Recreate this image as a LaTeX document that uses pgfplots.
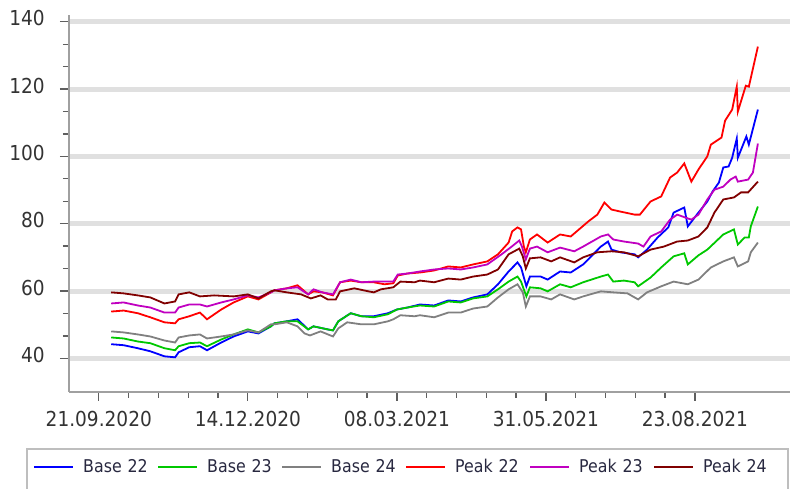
\documentclass[border=0pt]{standalone}
\usepackage{fontspec}
\setmainfont{DejaVu Sans}[FakeStretch=0.9]
\usepackage{pgfplots}
\pgfplotsset{compat=1.18}

\definecolor{gridgray}{RGB}{224,224,224}
\definecolor{axgray}{RGB}{160,160,160}
\definecolor{tickgray}{RGB}{95,95,95}
\definecolor{labelgray}{RGB}{51,51,51}
\definecolor{legtext}{RGB}{40,40,64}
\definecolor{legbox}{RGB}{190,190,190}
\definecolor{cbase22}{RGB}{0,0,255}
\definecolor{cbase23}{RGB}{0,200,0}
\definecolor{cbase24}{RGB}{128,128,128}
\definecolor{cpeak22}{RGB}{255,0,0}
\definecolor{cpeak23}{RGB}{192,0,192}
\definecolor{cpeak24}{RGB}{128,0,0}

\begin{document}
\begin{tikzpicture}
\begin{axis}[
  scale only axis,
  width=721pt, height=377pt,
  xmin=-16.8, xmax=389.6,
  ymin=30, ymax=142,
  axis lines=left,
  axis line style={-, axgray, line width=1.6pt},
  tick align=outside,
  major tick length=9pt, minor tick length=6pt,
  tick style={tickgray, line width=1.3pt},
  xtick={0,84,168,252,336},
  xticklabels={21.09.2020,14.12.2020,08.03.2021,31.05.2021,23.08.2021},
  minor x tick num=4,
  ytick={40,60,80,100,120,140},
  minor y tick num=2,
  ymajorgrids,
  major grid style={gridgray, line width=5pt},
  /pgf/number format/assume math mode=true,
  ticklabel style={font=\fontsize{20.6}{24}\selectfont, text=labelgray, inner sep=0pt},
  xticklabel style={anchor=north, yshift=-10pt},
  yticklabel style={anchor=east, xshift=-15pt, yshift=3.5pt},
  every axis plot/.append style={line width=1.8pt, no markers},
  legend columns=6,
  legend style={at={(axis description cs:0,0)}, anchor=west,
    xshift=-36pt, yshift=-75pt, draw=none, fill=none, inner sep=0pt,
    font=\fontsize{17.6}{21}\selectfont, text=legtext,
    /tikz/every odd column/.append style={column sep=9pt},
    nodes={inner sep=0pt, text width=74pt, align=left}},
  legend image code/.code={\draw[#1, line width=2pt] (0pt,0pt) -- (39pt,0pt);},
]
\addplot[cbase22] coordinates {
(7,44.2)(14,43.9)(22,43.0)(29,42.1)(37,40.6)(43,40.3)(45,41.8)(51,43.3)(57,43.6)(61,42.4)
(69,44.7)(76,46.5)(84,48.0)(90,47.4)(97,49.5)(99,50.4)(106,51.0)(112,51.6)(118,48.6)(121,49.5)
(129,48.6)(132,48.3)(135,51.0)(142,53.4)(148,52.5)(155,52.5)(163,53.4)(168,54.5)(174,55.1)(181,56.0)
(189,55.7)(197,57.2)(204,56.9)(211,58.1)(219,59.0)(225,62.0)(231,65.8)(236,68.5)(238,67.0)(241,61.4)
(243,64.3)(249,64.3)(253,63.4)(260,65.8)(266,65.5)(273,67.9)(283,73.2)(287,74.7)(289,72.3)(294,71.5)
(302,70.9)(304,70.0)(309,72.3)(315,75.9)(321,78.9)(324,83.3)(330,84.8)(332,79.2)(338,83.3)(343,86.6)
(346,89.6)(349.5,92.2)(352,96.7)(355,97.0)(357,99.6)(359.6,105.3)(360.2,99.6)(365,105.9)(366.4,103.5)(371.5,113.9)
};
\addlegendentry{Base 22}
\addplot[cbase23] coordinates {
(7,46.2)(14,45.9)(22,45.0)(29,44.5)(37,43.0)(43,42.4)(45,43.6)(51,44.5)(57,44.7)(61,43.6)
(69,45.6)(76,47.1)(84,48.6)(90,47.7)(97,49.5)(99,50.4)(106,51.0)(112,51.0)(118,48.6)(121,49.5)
(129,48.6)(132,48.3)(135,51.0)(142,53.4)(148,52.5)(155,52.2)(163,53.1)(168,54.5)(174,55.1)(181,55.7)
(189,55.4)(197,56.9)(204,56.6)(211,57.8)(219,58.4)(225,60.5)(231,62.8)(236,64.3)(238,62.8)(241,58.4)
(243,61.1)(249,60.8)(253,59.9)(260,62.0)(266,61.1)(273,62.6)(283,64.3)(287,64.9)(290,62.8)(296,63.1)
(302,62.6)(304,61.4)(311,64.0)(317,67.0)(324,70.3)(330,71.2)(332,67.9)(338,70.6)(343,72.3)(349,75.3)
(352,76.8)(358,78.3)(360.2,73.8)(364,75.9)(366.4,75.9)(367.5,79.2)(371.5,85.1)
};
\addlegendentry{Base 23}
\addplot[cbase24] coordinates {
(7,48.0)(14,47.7)(22,47.1)(29,46.5)(37,45.3)(43,44.7)(45,46.2)(51,46.8)(57,47.1)(61,45.9)
(69,46.5)(76,47.1)(84,48.3)(90,47.7)(97,50.1)(99,50.1)(106,50.7)(112,49.5)(116,47.4)(119,46.8)
(125,48.0)(132,46.5)(135,48.9)(140,50.7)(148,50.1)(155,50.1)(163,51.0)(166,51.6)(170,52.8)(178,52.5)
(181,52.8)(189,52.2)(197,53.6)(204,53.6)(211,54.8)(219,55.4)(225,58.1)(231,60.5)(236,62.0)(239,59.6)
(240.7,55.4)(243,58.4)(249,58.4)(255,57.5)(260,59.0)(268,57.5)(273,58.4)(283,59.9)(290,59.6)(298,59.3)
(304,57.5)(309,59.6)(317,61.4)(324,62.8)(332,62.0)(338,63.4)(345,67.0)(352,68.8)(358,70.0)(360.2,67.3)
(366,68.8)(367.5,71.5)(371.5,74.4)
};
\addlegendentry{Base 24}
\addplot[cpeak22] coordinates {
(7,53.9)(14,54.2)(22,53.4)(29,52.2)(37,50.7)(43,50.4)(45,51.6)(51,52.5)(57,53.6)(61,51.6)
(69,54.5)(76,56.6)(84,58.4)(90,57.5)(97,59.6)(99,60.2)(106,60.8)(112,61.7)(118,59.0)(121,59.9)
(126,59.6)(132,58.7)(136,62.6)(142,63.1)(148,62.6)(155,62.6)(161,62.0)(166,62.3)(168.5,64.6)(174,65.2)
(181,65.5)(189,66.1)(197,67.3)(204,67.0)(211,67.9)(219,68.8)(225,70.9)(231,74.4)(233,77.7)(236,78.9)
(238,78.3)(239.6,73.2)(240.7,71.5)(243,75.3)(247,76.8)(253,74.4)(260,76.8)(266,76.2)(276,80.7)(281,82.7)
(285,86.3)(289,84.2)(294,83.6)(302,82.7)(305,82.7)(311,86.6)(317,88.1)(322,93.7)(326,95.2)(330,97.9)
(334,92.5)(338,96.1)(343,100.0)(345,103.5)(351,105.6)(353,110.6)(357,113.9)(359.6,120.7)(360.2,113.3)(364.7,121.0)
(366.4,120.7)(371.5,132.6)
};
\addlegendentry{Peak 22}
\addplot[cpeak23] coordinates {
(7,56.3)(14,56.6)(22,55.7)(29,55.1)(37,53.6)(43,53.6)(45,55.1)(51,56.0)(57,56.0)(61,55.4)
(69,56.6)(76,57.5)(84,58.7)(90,58.1)(97,59.6)(99,60.2)(106,60.8)(112,61.1)(118,59.0)(121,60.5)
(126,59.6)(132,59.0)(136,62.6)(142,63.4)(148,62.6)(155,62.8)(161,62.8)(166,62.8)(168.5,64.9)(174,65.2)
(181,65.8)(189,66.4)(197,66.7)(204,66.4)(211,67.0)(219,67.9)(227,70.9)(232,72.9)(237,75.0)(238.5,73.2)
(240.7,69.4)(243,72.6)(247,73.2)(253,71.5)(260,72.9)(268,71.8)(273,73.2)(283,76.2)(287,76.8)(290,75.3)
(296,74.7)(304,74.1)(307,73.2)(311,76.2)(317,77.7)(322,81.2)(326,82.7)(334,81.2)(338,82.7)(343,87.2)
(347,90.1)(352,91.0)(356,93.1)(359,94.0)(360.2,92.5)(366,93.1)(368.7,95.2)(371.5,103.8)
};
\addlegendentry{Peak 23}
\addplot[cpeak24] coordinates {
(7,59.6)(14,59.3)(22,58.7)(29,58.1)(37,56.3)(43,56.9)(45,59.0)(51,59.6)(57,58.4)(65,58.7)
(76,58.4)(84,59.0)(90,57.8)(97,59.9)(99,60.2)(106,59.6)(114,59.0)(119.5,57.8)(125,58.7)(129,57.5)
(133.6,57.5)(136,59.9)(144,60.8)(152,59.9)(155,59.6)(159,60.5)(166,61.1)(170,62.8)(178,62.6)(181,63.1)
(189,62.6)(197,63.7)(204,63.4)(211,64.3)(219,64.9)(225,66.4)(231,70.9)(237,72.6)(239,70.3)(240.7,66.7)
(243,69.7)(249,70.0)(255,68.8)(260,70.0)(268,68.5)(273,70.0)(281,71.5)(289,71.8)(296,71.5)(304,70.3)
(311,72.3)(318.5,73.2)(326,74.7)(332,75.0)(338,76.2)(343,78.9)(347,83.3)(352,87.2)(358,87.8)(362,89.3)
(366,89.3)(371.5,92.5)
};
\addlegendentry{Peak 24}
\end{axis}
% legend frame, cut by the lower edge of the picture
\draw[legbox, line width=1.5pt] (-42pt,-120pt) |- (719pt,-57pt) -- (719pt,-120pt);
\pgfresetboundingbox
\path[use as bounding box] (-69pt,-97pt) rectangle (727pt,392pt);
\end{tikzpicture}
\end{document}
